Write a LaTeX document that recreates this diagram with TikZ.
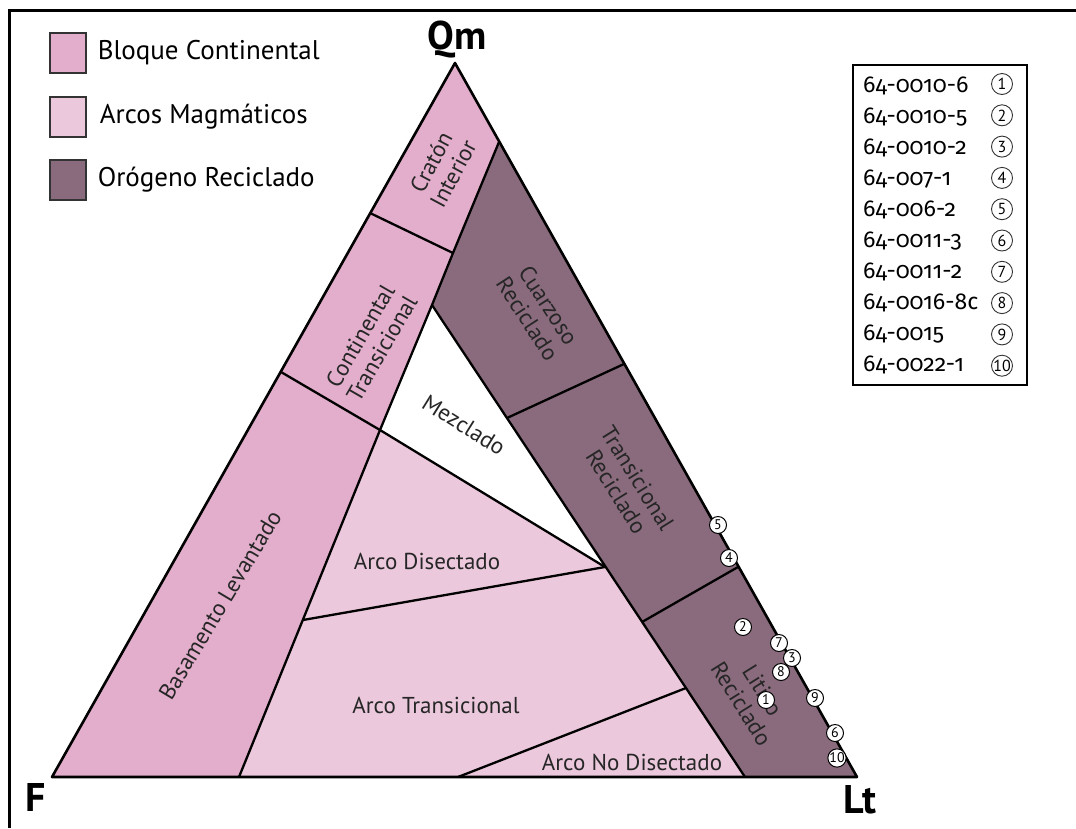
\documentclass[tikz,border=0pt]{standalone}
\usepackage{fontspec}
\setmainfont{PT Sans}
\newfontfamily\idfont[Numbers=OldStyle]{Fira Sans}
\usetikzlibrary{positioning}
\definecolor{bloque}{RGB}{226,174,203}
\definecolor{arcos}{RGB}{235,200,220}
\definecolor{orogeno}{RGB}{138,107,125}

\begin{document}
\begin{tikzpicture}[x=1pt, y=-1pt,
	limite/.style={draw=black, line width=2.3pt, line join=round},
	rotulo/.style={font=\fontsize{23}{25}\selectfont, align=center, inner sep=0pt, text=black!85},
	vertice/.style={font=\fontsize{40}{40}\selectfont\bfseries, inner sep=0pt},
	caja/.style={draw=black!80, line width=1.2pt, minimum width=36pt, minimum height=40pt, inner sep=0pt},
	textocaja/.style={font=\fontsize{27}{29}\selectfont, inner sep=0pt},
	muestra/.style={circle, draw=black, fill=white, line width=1pt, inner sep=0pt, minimum size=17pt, font=\fontsize{14}{14}\selectfont},
	clave/.style={circle, draw=black!80, line width=0.9pt, inner sep=0pt, minimum size=21pt, font=\fontsize{16}{16}\selectfont}]
	\useasboundingbox (0,0) rectangle (1076,828);
	\fill[white] (0,0) rectangle (1076,828);
	% marco
	\draw[line width=3pt] (9,828) -- (9,10) -- (1076,10);

	% vertices del triangulo y puntos de los limites
	\coordinate (Qm) at (455,63);
	\coordinate (F) at (52,777);
	\coordinate (Lt) at (857,777);
	\coordinate (p1) at (370,213);
	\coordinate (p2) at (281,372);
	\coordinate (r1) at (499,142);
	\coordinate (r2) at (624,364);
	\coordinate (r3) at (738,567);
	\coordinate (c1) at (453,253);
	\coordinate (c2) at (432,305);
	\coordinate (q) at (380,430);
	\coordinate (d1) at (507,418);
	\coordinate (d2) at (642,622);
	\coordinate (j) at (605,567);
	\coordinate (n2) at (686,688);
	\coordinate (e) at (303,620);
	\coordinate (b0) at (239,777);
	\coordinate (b1) at (745,777);
	\coordinate (b2) at (458,777);

	% campos
	\fill[bloque] (Qm) -- (r1) -- (c1) -- (c2) -- (q) -- (b0) -- (F) -- cycle;
	\fill[orogeno] (r1) -- (Lt) -- (b1) -- (c2) -- (c1) -- cycle;
	\fill[arcos] (q) -- (j) -- (b1) -- (b0) -- cycle;

	\draw[limite] (p1) -- (c1);
	\draw[limite] (r1) -- (c1) -- (c2) -- (q) -- (b0);
	\draw[limite] (c2) -- (b1);
	\draw[limite] (p2) -- (q) -- (j);
	\draw[limite] (e) -- (j);
	\draw[limite] (b2) -- (n2);
	\draw[limite] (d1) -- (r2);
	\draw[limite] (d2) -- (r3);
	\draw[limite, line width=2.6pt] (Qm) -- (F) -- (Lt) -- cycle;

	% nombres de los campos
	\node[rotulo, rotate=62] (craton) at (442,168) {Cratón\\Interior};
	\node[rotulo, rotate=60] (conttrans) at (371,342) {Continental\\Transicional};
	\node[rotulo, rotate=59] (basamento) at (220,605) {Basamento Levantado};
	\node[rotulo, rotate=-57] (cuarzoso) at (538,312) {Cuarzoso\\Reciclado};
	\node[rotulo, rotate=-58] (transrec) at (627,485) {Transicional\\Reciclado};
	\node[rotulo, rotate=-58] (litico) at (752,697) {Litico\\Reciclado};
	\node[rotulo, rotate=-32] (mezclado) at (464,425) {Mezclado};
	\node[rotulo] (disectado) at (427,561) {Arco Disectado};
	\node[rotulo] (arcotrans) at (436,705) {Arco Transicional};
	\node[rotulo] (nodisectado) at (632,762) {Arco No Disectado};

	\node[vertice] (qmlab) at (457,40) {Qm};
	\node[vertice] (flab) at (36,797) {F};
	\node[vertice] (ltlab) at (860,800) {Lt};

	% muestras
	\foreach \nm/\px/\py in {5/718/525, 4/729/558, 2/743/627, 7/779/643, 3/792/658,
		8/781/672, 1/766/700, 9/815/698, 6/835/733, 10/837/758}
		\node[muestra] (m\nm) at (\px,\py) {\nm};

	% leyenda de campos
	\node[caja, fill=bloque] (cajaA) at (68,53) {};
	\node[caja, fill=arcos] (cajaB) at (68,117) {};
	\node[caja, fill=orogeno] (cajaC) at (68,180) {};
	\node[textocaja, right=11pt of cajaA] (leyA) {Bloque Continental};
	\node[textocaja, right=13pt of cajaB] (leyB) {Arcos Magmáticos};
	\node[textocaja, right=11pt of cajaC] (leyC) {Orógeno Reciclado};

	% leyenda de muestras
	\draw[line width=2pt] (853,65) rectangle (1027,385);
	\foreach \id [count=\n] in {64-0010-6, 64-0010-5, 64-0010-2, 64-007-1, 64-006-2,
		64-0011-3, 64-0011-2, 64-0016-8c, 64-0015, 64-0022-1} {
		\node[anchor=base west, inner sep=0pt, font=\idfont\fontsize{23}{23}\selectfont] (id\n) at (863,{92+31*(\n-1)}) {\id};
		\node[clave] (cl\n) at (1002,{84+31.3*(\n-1)}) {\n};
	}
\end{tikzpicture}
\end{document}
